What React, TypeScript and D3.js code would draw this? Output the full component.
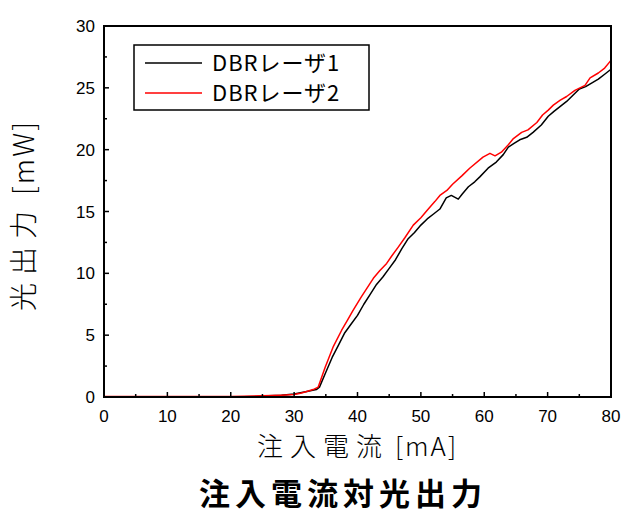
import React from "react";
import * as d3 from "d3";

// Injection current [mA] vs optical output [mW] for two DBR lasers
const laser1Current = [0, 10, 20, 24, 26, 28, 30, 32, 33.5, 34, 35, 36, 37, 38, 39, 40, 41, 42, 43, 44, 45, 46, 47, 48, 49, 50, 51, 52, 53, 54, 54.8, 55.9, 56.5, 57.5, 58.5, 59.3, 60.6, 61.9, 63, 63.8, 64.7, 65.6, 66.7, 67.7, 69, 70.1, 71, 72, 73, 74, 75, 76, 77, 78, 79, 80];
const laser1Power = [0, 0, 0, 0.05, 0.1, 0.15, 0.25, 0.45, 0.6, 0.8, 2.0, 3.2, 4.2, 5.2, 5.9, 6.6, 7.5, 8.3, 9.1, 9.7, 10.4, 11.1, 12.0, 12.8, 13.3, 13.9, 14.4, 14.8, 15.2, 16.1, 16.3, 16.0, 16.4, 17.0, 17.4, 17.8, 18.5, 19.0, 19.6, 20.2, 20.5, 20.8, 21.0, 21.4, 22.0, 22.7, 23.1, 23.5, 23.9, 24.4, 24.9, 25.1, 25.4, 25.7, 26.1, 26.5];

const laser2Current = [0, 20, 25, 28, 30, 31, 32, 33, 33.8, 34.9, 36.2, 37.5, 38.4, 39.3, 40.6, 41.5, 42.5, 43.5, 44.6, 45.4, 46.4, 47.5, 48.8, 50, 51, 52.2, 53, 54.1, 55, 56.5, 57.7, 59.8, 60.9, 61.7, 62.7, 63.8, 64.6, 65.9, 66.9, 68.3, 69.2, 70.1, 70.9, 72, 73, 74.3, 75.9, 76.7, 78, 79, 79.8, 80];
const laser2Power = [0.05, 0.05, 0.1, 0.15, 0.2, 0.3, 0.45, 0.6, 0.8, 2.4, 4.1, 5.4, 6.2, 7.0, 8.1, 8.8, 9.6, 10.2, 10.8, 11.4, 12.1, 12.9, 13.9, 14.5, 15.1, 15.8, 16.3, 16.7, 17.2, 17.9, 18.5, 19.4, 19.7, 19.5, 19.8, 20.4, 20.9, 21.4, 21.6, 22.2, 22.8, 23.2, 23.6, 24.0, 24.3, 24.8, 25.2, 25.8, 26.2, 26.6, 27.1, 27.2];

const seriesNames = ["DBRレーザ1", "DBRレーザ2"];
const seriesColors = ["#000000", "#ff0000"];

const xTicks = [0, 10, 20, 30, 40, 50, 60, 70, 80];
const yTicks = [0, 5, 10, 15, 20, 25, 30];

const xTitleMain = "注入電流";
const xTitleUnit = "[mA]";
const yTitleMain = "光出力";
const yTitleUnit = "[mW]";
const chartTitle = "注入電流対光出力";

const W = 627;
const H = 520;
const plot = { left: 104, right: 611, top: 26, bottom: 397 };
const tickFont = "'Liberation Sans', Arial, sans-serif";
const cjkFont = "'Noto Sans CJK JP', 'Noto Sans', sans-serif";

export default function App() {
  const x = d3.scaleLinear().domain([0, 80]).range([plot.left, plot.right]);
  const y = d3.scaleLinear().domain([0, 30]).range([plot.bottom, plot.top]);

  const line = d3
    .line<[number, number]>()
    .x((d) => x(d[0]))
    .y((d) => y(d[1]));

  const series = [
    laser1Current.map((c, i) => [c, laser1Power[i]] as [number, number]),
    laser2Current.map((c, i) => [c, laser2Power[i]] as [number, number]),
  ];

  const xMinor = d3.range(5, 80, 10);
  const yMinor = d3.range(2.5, 30, 5);

  return (
    <svg
      width={W}
      height={H}
      style={{ position: "absolute", left: 0, top: 0, background: "#fff" }}
    >
      <rect x={0} y={0} width={W} height={H} fill="#fff" />

      {/* data lines */}
      {series.map((s, i) => (
        <path
          key={i}
          d={line(s) || ""}
          fill="none"
          stroke={seriesColors[i]}
          strokeWidth={1.5}
          strokeLinejoin="round"
        />
      ))}

      {/* frame */}
      <rect
        x={plot.left}
        y={plot.top}
        width={plot.right - plot.left}
        height={plot.bottom - plot.top}
        fill="none"
        stroke="#000"
        strokeWidth={2}
      />

      {/* x ticks */}
      {xTicks.map((t) => (
        <g key={"xt" + t}>
          <line x1={x(t)} x2={x(t)} y1={plot.bottom} y2={plot.bottom - 5} stroke="#000" strokeWidth={1.5} />
          <text
            x={x(t)}
            y={422}
            textAnchor="middle"
            fontFamily={tickFont}
            fontSize={17}
            fill="#000"
          >
            {t}
          </text>
        </g>
      ))}
      {xMinor.map((t) => (
        <line key={"xm" + t} x1={x(t)} x2={x(t)} y1={plot.bottom} y2={plot.bottom - 3} stroke="#000" strokeWidth={1.5} />
      ))}

      {/* y ticks */}
      {yTicks.map((t) => (
        <g key={"yt" + t}>
          <line x1={plot.left} x2={plot.left + 5} y1={y(t)} y2={y(t)} stroke="#000" strokeWidth={1.5} />
          <text
            x={95}
            y={y(t) + 6}
            textAnchor="end"
            fontFamily={tickFont}
            fontSize={17}
            fill="#000"
          >
            {t}
          </text>
        </g>
      ))}
      {yMinor.map((t) => (
        <line key={"ym" + t} x1={plot.left} x2={plot.left + 3} y1={y(t)} y2={y(t)} stroke="#000" strokeWidth={1.5} />
      ))}

      {/* legend */}
      <rect x={134} y={45} width={235} height={65} fill="#fff" stroke="#000" strokeWidth={1.5} />
      {seriesNames.map((name, i) => (
        <g key={name}>
          <line
            x1={145}
            x2={202}
            y1={63 + i * 30}
            y2={63 + i * 30}
            stroke={seriesColors[i]}
            strokeWidth={1.5}
          />
          <text
            x={212}
            y={63 + i * 30 + 8}
            fontFamily={cjkFont}
            fontSize={22}
            fill="#000"
            letterSpacing={1}
          >
            {name}
          </text>
        </g>
      ))}

      {/* axis titles */}
      <text
        x={(plot.left + plot.right) / 2}
        y={456}
        textAnchor="middle"
        fontFamily={cjkFont}
        fontSize={26}
        fontWeight={300}
        fill="#000"
      >
        <tspan letterSpacing={7}>{xTitleMain}</tspan>
        <tspan dx={6} letterSpacing={2}>{xTitleUnit}</tspan>
      </text>
      <text
        transform={`translate(34, ${(plot.top + plot.bottom) / 2 + 4}) rotate(-90)`}
        textAnchor="middle"
        fontFamily={cjkFont}
        fontSize={28}
        fontWeight={300}
        fill="#000"
      >
        <tspan letterSpacing={8}>{yTitleMain}</tspan>
        <tspan dx={8} letterSpacing={2}>{yTitleUnit}</tspan>
      </text>

      {/* chart title */}
      <text
        x={343}
        y={505}
        textAnchor="middle"
        fontFamily={cjkFont}
        fontSize={31}
        fontWeight={700}
        letterSpacing={5}
        fill="#000"
      >
        {chartTitle}
      </text>
    </svg>
  );
}
